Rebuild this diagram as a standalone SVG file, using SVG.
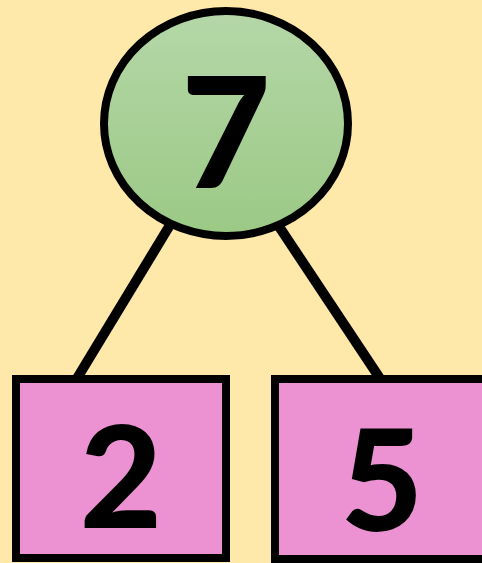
<svg xmlns="http://www.w3.org/2000/svg" width="482" height="563" viewBox="0 0 482 563">
<defs>
<linearGradient id="g" x1="0" y1="0" x2="0" y2="1">
<stop offset="0" stop-color="#B5D7A8"/>
<stop offset="1" stop-color="#9BC985"/>
</linearGradient>
<style>
.s{stroke:#000;stroke-width:8}
.t{font-family:Lato,"Open Sans",sans-serif;font-weight:900;fill:#000;text-anchor:middle}
</style>
</defs>
<rect width="482" height="563" fill="#FFE9AA"/>
<g id="connectors" stroke="#000" stroke-width="10">
<line x1="170" y1="225" x2="76" y2="380"/>
<line x1="278" y1="225" x2="381" y2="380"/>
</g>
<g id="n7">
<ellipse class="s" cx="226" cy="123.5" rx="122" ry="112.5" fill="url(#g)"/>
<text class="t" x="226" y="188" font-size="154">7</text>
</g>
<g id="n2">
<rect class="s" x="16" y="379" width="210" height="179" fill="#EC92D2"/>
<text class="t" x="121" y="528" font-size="142">2</text>
</g>
<g id="n5">
<rect class="s" x="275" y="379" width="215" height="180" fill="#EC92D2"/>
<text class="t" x="382" y="531" font-size="142">5</text>
</g>
</svg>
